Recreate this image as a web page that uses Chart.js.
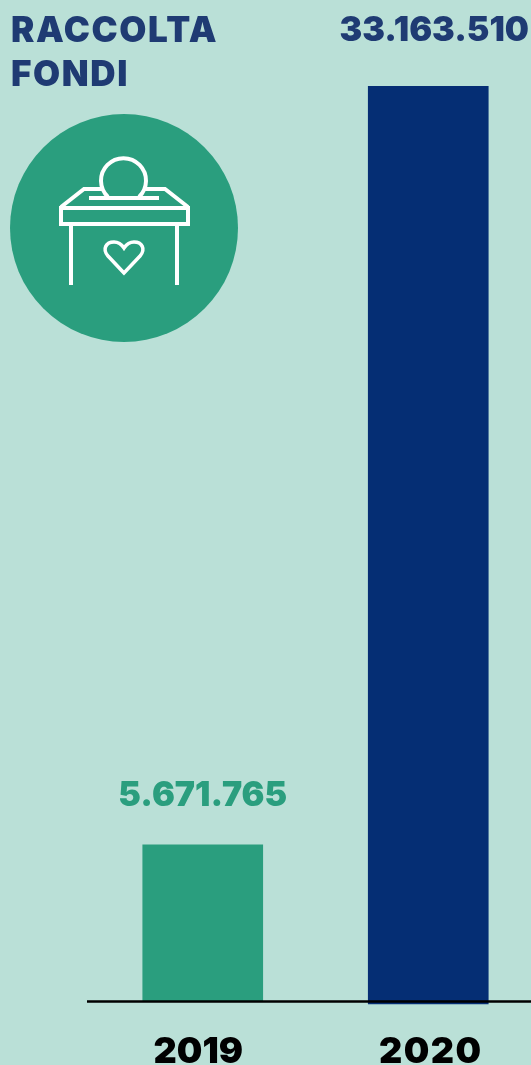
<!DOCTYPE html>
<html>
<head>
<meta charset="utf-8">
<style>
  html, body { margin: 0; padding: 0; width: 531px; height: 1065px; overflow: hidden; background: #bae0d7; }
  #chart { position: absolute; left: 0; top: 0; }
  #title { position: absolute; left: 11px; top: 7px; font: 900 35px/44px Inter, sans-serif; letter-spacing: 1.6px; color: #1f3b73; }
  #icon { position: absolute; left: 0; top: 100px; }
</style>
<script src="https://cdn.jsdelivr.net/npm/chart.js@4"></script>
</head>
<body>
<canvas id="chart" width="560" height="1065"></canvas>
<div id="title">RACCOLTA<br>FONDI</div>
<svg id="icon" width="250" height="250" viewBox="0 100 250 250">
  <circle cx="124" cy="228" r="114" fill="#2a9e7e"/>
  <g fill="none" stroke="#fff" stroke-width="4">
    <path d="M108 197 A22.5 22.5 0 1 1 139 197"/>
    <path d="M89 198 H159"/>
    <path d="M61 207 L84 189 H103 M143 189 H165 L188 207"/>
    <rect x="61" y="208" width="127" height="16"/>
    <path d="M71 224 V285 M177 224 V285"/>
    <path stroke-width="3.5" d="M124 273 L108 256 C102 249 106 242 114 242 C119 242 122 245 124 248 C126 245 129 242 134 242 C142 242 146 249 140 256 Z"/>
  </g>
</svg>
<script>
const categories = ['2019', '2020'];
const values = [5671765, 33163510];
const valueLabels = ['5.671.765', '33.163.510'];
const barBase = [0, -85000]; // the 2020 bar pokes out under the axis line in the original
const barColors = ['#2a9e7e', '#052e74'];
const labelColors = ['#2a9e7e', '#1f3b73'];

// labels and the axis line are drawn here, the baseline runs past the plot on the left
const labelsPlugin = {
  id: 'labelsPlugin',
  afterDatasetsDraw(chart) {
    const { ctx, scales } = chart;
    const y0 = scales.y.getPixelForValue(0);
    ctx.save();
    ctx.strokeStyle = '#000';
    ctx.lineWidth = 2.5;
    ctx.beginPath();
    ctx.moveTo(87, y0);
    ctx.lineTo(531, y0);
    ctx.stroke();

    ctx.textAlign = 'center';
    ctx.textBaseline = 'alphabetic';
    const valueShift = [0, 6];
    const yearShift = [-4.5, 2.5];
    const yearSpacing = ['0px', '1.5px'];
    const valueY = [806, 41];
    categories.forEach((cat, i) => {
      const x = scales.x.getPixelForValue(i);
      ctx.font = '900 34px Inter, sans-serif';
      ctx.letterSpacing = '0px';
      ctx.fillStyle = labelColors[i];
      ctx.fillText(valueLabels[i], x + valueShift[i], valueY[i]);
      ctx.font = '900 36px Inter, sans-serif';
      ctx.letterSpacing = yearSpacing[i];
      ctx.fillStyle = '#000';
      ctx.fillText(cat, x + yearShift[i], 1063);
    });
    ctx.restore();
  }
};

new Chart(document.getElementById('chart'), {
  type: 'bar',
  plugins: [labelsPlugin],
  data: {
    labels: categories,
    datasets: [{
      data: values.map((v, i) => [barBase[i], v]),
      backgroundColor: barColors,
      barThickness: 120
    }]
  },
  options: {
    responsive: false,
    animation: false,
    layout: { padding: { left: 90, right: 19, top: 86, bottom: 60 } },
    plugins: { legend: { display: false }, tooltip: { enabled: false } },
    scales: {
      x: { display: false },
      y: { display: false, min: -126850, max: 33163510 }
    }
  }
});
</script>
</body>
</html>
